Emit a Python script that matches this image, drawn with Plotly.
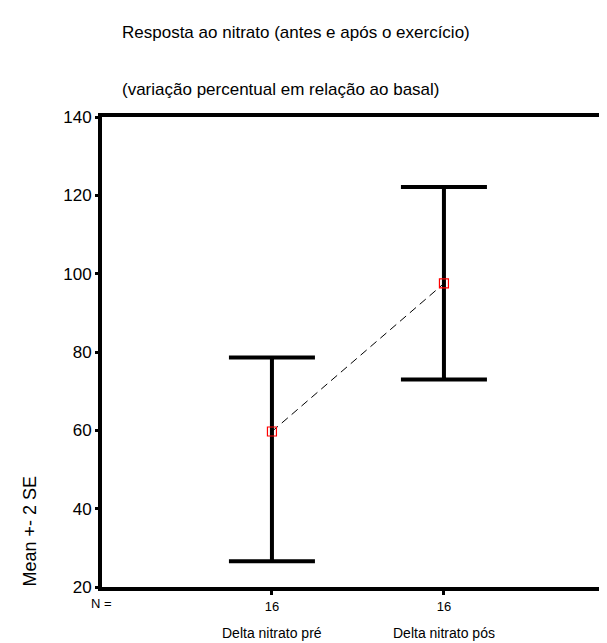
import plotly.graph_objects as go

categories = ["Delta nitrato pré", "Delta nitrato pós"]
n_labels = ["16", "16"]
means = [59.7, 97.5]
upper = [78.6, 122.1]
lower = [26.6, 73.0]
y_ticks = [20, 40, 60, 80, 100, 120, 140]
title_lines = ["Resposta ao nitrato (antes e após o exercício)",
               "(variação percentual em relação ao basal)"]
y_title = "Mean +- 2 SE"

OFF = 8  # default body margin of the html page
W, H = 607, 643 - OFF
L, R, T = 102 - OFF, 0, 117 - OFF
B = H - (587 - OFF)
pw, ph = W - L - R, H - T - B

def px_x(p):
    return (p - OFF - L) / pw

def px_y(p):
    return (H - B - (p - OFF)) / ph

xpos = list(range(1, len(categories) + 1))
err_plus = [u - m for u, m in zip(upper, means)]
err_minus = [m - l for m, l in zip(means, lower)]

sans = "Liberation Sans, Arial, sans-serif"

fig = go.Figure()
fig.add_trace(go.Scatter(
    x=xpos, y=means, mode="lines+markers",
    line=dict(color="black", width=1, dash="8px,5px"),
    marker=dict(symbol="square-open", color="red", size=9, line=dict(width=1.2, color="red")),
    error_y=dict(type="data", symmetric=False, array=err_plus, arrayminus=err_minus,
                 color="black", thickness=4, width=43),
    showlegend=False, hoverinfo="skip",
))

annotations = [
    dict(text=title_lines[0], x=px_x(120), y=px_y(33), xanchor="left", yanchor="middle"),
    dict(text=title_lines[1], x=px_x(120), y=px_y(90), xanchor="left", yanchor="middle"),
]
for a in annotations:
    a.update(xref="paper", yref="paper", showarrow=False,
             font=dict(family=sans, size=17, color="black"))
for xc, c in zip(xpos, categories):
    annotations.append(dict(text=c, x=xc, xref="x", y=px_y(633), yref="paper",
                            xanchor="center", yanchor="middle", showarrow=False,
                            font=dict(family=sans, size=14, color="black")))
annotations.append(dict(text="N =", x=px_x(101), y=px_y(603), xref="paper", yref="paper",
                        xanchor="center", yanchor="middle", showarrow=False,
                        font=dict(family=sans, size=13, color="black")))
annotations.append(dict(text=y_title, x=px_x(29), y=px_y(589), xref="paper", yref="paper",
                        xanchor="center", yanchor="bottom", textangle=-90, showarrow=False,
                        font=dict(family=sans, size=18, color="black")))

fig.update_layout(
    width=W, height=H,
    margin=dict(l=L, r=R, t=T, b=B, pad=0),
    paper_bgcolor="white", plot_bgcolor="white",
    annotations=annotations,
    xaxis=dict(range=[0.012, 0.012 + pw / 172.0], tickvals=xpos, ticktext=n_labels,
               showgrid=False, zeroline=False, showline=True, linecolor="black", linewidth=4,
               mirror=True, ticks="outside", ticklen=4, tickwidth=3, tickcolor="black",
               tickfont=dict(family=sans, size=13, color="black")),
    yaxis=dict(range=[20, 140], tickvals=y_ticks, showgrid=False, zeroline=False,
               showline=True, linecolor="black", linewidth=4,
               ticks="outside", ticklen=3, tickwidth=3, tickcolor="black",
               tickfont=dict(family=sans, size=17, color="black")),
)

fig.write_html("out.html")
